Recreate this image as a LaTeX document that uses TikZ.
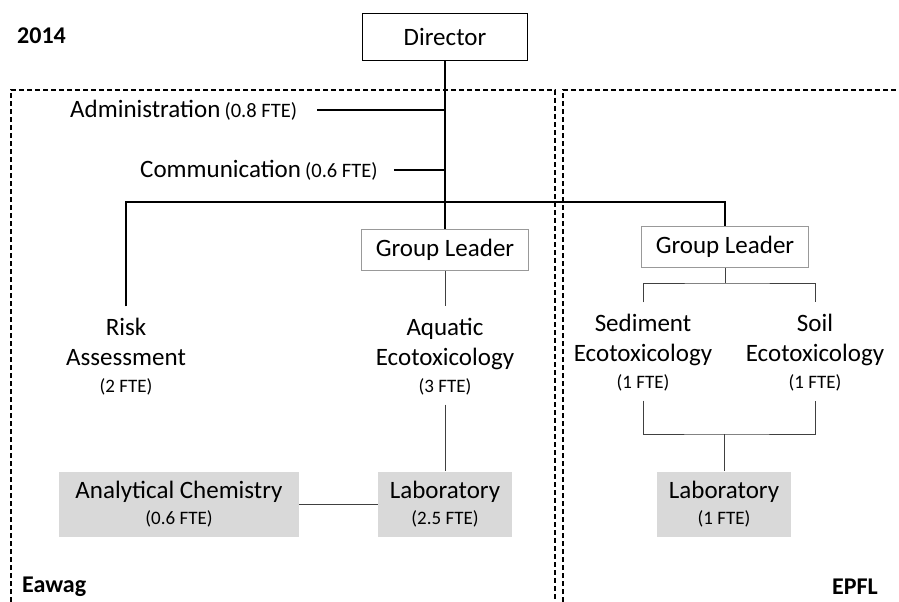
\documentclass[tikz,border=0pt]{standalone}
\usepackage{fontspec}
\setmainfont{Carlito}
\usepackage{tikz}

\tikzset{
	unit/.style={align=center, inner sep=0pt, font=\fontsize{25}{30}\selectfont},
	headbox/.style={draw, line width=1pt, minimum width=165pt, minimum height=47pt, font=\fontsize{25}{30}\selectfont},
	leaderbox/.style={draw=gray!80, line width=0.8pt, minimum width=167pt, minimum height=41pt, font=\fontsize{25}{30}\selectfont},
	labbox/.style={fill=gray!30, align=center, minimum height=65pt, inner sep=0pt, font=\fontsize{25}{26}\selectfont},
	inst/.style={font=\fontsize{24}{28}\selectfont\bfseries, inner sep=0pt},
	main/.style={line width=1.6pt},
	minor/.style={line width=0.9pt, black!75},
	frame/.style={line width=1.2pt, dash pattern=on 5pt off 3pt},
}
\newcommand{\fte}[1]{{\fontsize{19}{22}\selectfont(#1~FTE)}}
\newcommand{\ftein}[1]{{\fontsize{20.5}{22}\selectfont(#1~FTE)}}

\begin{document}
\begin{tikzpicture}[x=1pt, y=-1pt]
		\useasboundingbox (0, 0) rectangle (899, 602);
		% frames of the two institutes
		\draw[frame] (11, 602) -- (11, 90) -- (555, 90) -- (555, 602);
		\draw[frame] (563, 602) -- (563, 90) -- (899, 90);
		\node[inst, anchor=west] (year) at (17, 36) {2014};
		\node[inst, anchor=west] (eawag) at (22, 587) {Eawag};
		\node[inst, anchor=east] (epfl) at (878, 587) {EPFL};

		\node[headbox] (director) at (445, 37) {Director};
		\node[unit, anchor=west] (admin) at (70, 110) {Administration\,\ftein{0.8}};
		\node[unit, anchor=west] (comm) at (140, 170) {Communication\,\ftein{0.6}};
		\coordinate (bus) at (445, 202);

		% Eawag
		\node[leaderbox] (lead1) at (445, 250) {Group Leader};
		\node[unit] (risk) at (126, 357) {Risk\\Assessment\\[-3pt]\fte{2}};
		\node[unit] (aqua) at (445, 357) {Aquatic\\Ecotoxicology\\[-3pt]\fte{3}};
		\node[labbox, minimum width=240pt] (chem) at (179, 504) {Analytical Chemistry\\\fte{0.6}};
		\node[labbox, minimum width=134pt] (lab1) at (445, 504) {Laboratory\\\fte{2.5}};

		% EPFL
		\node[leaderbox] (lead2) at (725, 247) {Group Leader};
		\node[unit] (sed) at (643, 353) {Sediment\\Ecotoxicology\\[-3pt]\fte{1}};
		\node[unit] (soil) at (815, 353) {Soil\\Ecotoxicology\\[-3pt]\fte{1}};
		\node[labbox, minimum width=134pt] (lab2) at (724, 504) {Laboratory\\\fte{1}};
		\coordinate (fork) at (725, 283);
		\coordinate (join) at (724, 434);

		\draw[main] (director.south) -- (lead1.north);
		\draw[main] ([xshift=20pt]admin.east) -- (admin.east -| director.south);
		\draw[main] ([xshift=16pt]comm.east) -- (comm.east -| director.south);
		\draw[main] ([yshift=12pt]risk.north) -- (risk.north |- bus) -- (lead2.north |- bus) -- (lead2.north);

		\draw[minor] (lead1.south) -- ([yshift=12pt]aqua.north);
		\draw[minor] ([yshift=-9pt]aqua.south) -- (lab1.north);
		\draw[minor] (chem.east) -- (lab1.west);

		\draw[minor] (lead2.south) -- (fork);
		\draw[minor] ([yshift=12pt]sed.north) |- (fork) -| ([yshift=12pt]soil.north);
		\draw[minor] ([yshift=-9pt]sed.south) |- (join) -| ([yshift=-9pt]soil.south);
		\draw[minor] (join) -- (lab2.north);
	\end{tikzpicture}
\end{document}
